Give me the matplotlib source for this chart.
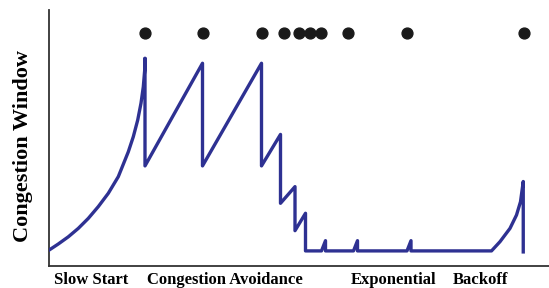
import numpy as np
import matplotlib
matplotlib.use("Agg")
import matplotlib.pyplot as plt

# congestion window trace (time, window)
t = [0, 1.86, 3.86, 5.86, 7.86, 9.86, 11.86, 13.86, 15.86, 16.86,
     17.74, 18.4, 18.86, 19.2, 19.2,
     19.2, 30.7, 30.7, 42.5, 42.5, 46.3, 46.3, 49.2, 49.2, 51.3, 51.3,
     54.5, 55.3, 55.3, 60.9, 61.7, 61.7, 71.6, 72.4, 72.4, 88.5,
     90.2, 92.2, 93.5, 94.3, 94.85, 94.85]
cwnd = [6.2, 8.6, 11.4, 14.7, 18.6, 23.2, 28.4, 34.9, 44.6, 50.5,
        57.0, 63.6, 70.0, 77.9, 81.1,
        39.1, 79.2, 39.1, 79.2, 39.1, 51.4, 24.5, 31.0, 13.8, 20.6, 5.9,
        5.9, 9.9, 5.9, 5.9, 9.9, 5.9, 5.9, 9.9, 5.9, 5.9,
        9.5, 14.7, 19.9, 25.1, 33.0, 5.5]

# loss events (dots along the top)
loss_t = [19.2, 30.7, 42.5, 46.9, 50.0, 52.1, 54.4, 59.7, 71.5, 94.9]
loss_y = 91.1

phases = ["Slow Start", "Congestion Avoidance", "Exponential", "Backoff"]
phase_x = [91.6, 225, 393.5, 480.5]  # pixel centres of the labels

fig = plt.figure(figsize=(5.49, 2.88), dpi=100)
ax = fig.add_axes([49/549, 22/288, 500/549, 256/288])

ax.plot(t, cwnd, color="#2e3192", lw=2.4, solid_joinstyle="round", zorder=3)
ax.plot(loss_t, [loss_y]*len(loss_t), "o", color="#1a1a1a", ms=7.8, zorder=4)

ax.set_xlim(0, 100)
ax.set_ylim(0, 100)
ax.set_xticks([])
ax.set_yticks([])
for s in ["top", "right"]:
    ax.spines[s].set_visible(False)
for s in ["left", "bottom"]:
    ax.spines[s].set_color("#333333")
    ax.spines[s].set_linewidth(1.3)

font = dict(family="Liberation Serif", weight="bold")
fig.text(23/549, 1-146/288, "Congestion Window", rotation=90,
         ha="center", va="center", fontsize=16, **font)
for lab, px in zip(phases, phase_x):
    fig.text(px/549, 1-279.5/288, lab, ha="center", va="center",
             fontsize=12, **font)

fig.savefig("out.png", dpi=100)
